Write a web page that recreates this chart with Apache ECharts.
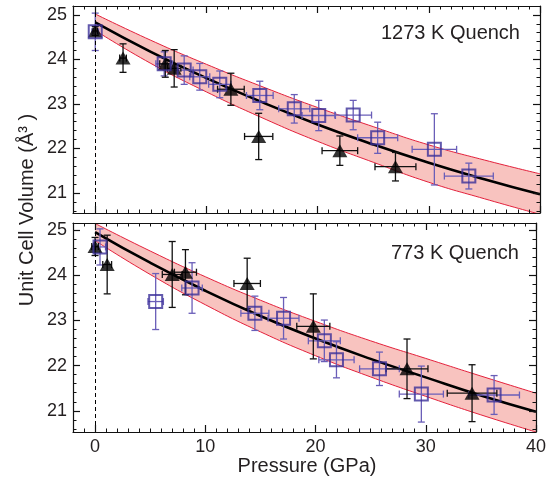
<!DOCTYPE html>
<html><head><meta charset="utf-8">
<script src="https://cdn.jsdelivr.net/npm/echarts@6/dist/echarts.min.js"></script>
<style>html,body{margin:0;padding:0;background:#fff}#c{width:549px;height:488px}</style>
</head><body><div id="c"></div>
<script>
// ---- tick labels ----
const xTickValues = [0, 10, 20, 30, 40];
const yTickValues = [21, 22, 23, 24, 25];
const panelTitles = ['1273 K Quench', '773 K Quench'];

// ---- fitted EOS curves ----
const fitP = [0, 5, 10, 15, 20, 25, 30, 35, 40];
const fitTopV     = [24.83, 24.17, 23.58, 23.04, 22.54, 22.09, 21.68, 21.31, 20.97];
const fitTopUpper = [25.02, 24.43, 23.89, 23.39, 22.92, 22.49, 22.08, 21.74, 21.43];
const fitTopLower = [24.65, 23.91, 23.27, 22.69, 22.16, 21.69, 21.24, 20.87, 20.52];
const fitBotV     = [24.96, 24.28, 23.66, 23.10, 22.60, 22.15, 21.74, 21.34, 20.98];
const fitBotUpper = [25.15, 24.54, 23.97, 23.45, 22.98, 22.55, 22.16, 21.77, 21.39];
const fitBotLower = [24.77, 24.02, 23.35, 22.75, 22.22, 21.75, 21.32, 20.91, 20.53];

// ---- 1273 K quench: squares ----
const sqTopP    = [0, 6.2, 8.0, 9.4, 11.2, 14.8, 17.9, 20.1, 23.2, 25.4, 30.5, 33.6];
const sqTopV    = [24.62, 23.9, 23.76, 23.61, 23.44, 23.19, 22.89, 22.74, 22.75, 22.24, 21.98, 21.38];
const sqTopPErr = [0.3, 0.75, 0.8, 0.9, 1.0, 1.2, 1.4, 1.5, 1.65, 1.8, 2.0, 2.2];
const sqTopVErr = [0.42, 0.27, 0.32, 0.3, 0.3, 0.32, 0.32, 0.34, 0.33, 0.35, 0.8, 0.29];
// ---- 1273 K quench: triangles ----
const trTopP    = [0, 2.5, 6.3, 7.1, 12.2, 14.7, 22.0, 27.0];
const trTopV    = [24.64, 24.03, 23.9, 23.8, 23.33, 22.27, 21.95, 21.59];
const trTopPErr = [0.2, 0.3, 0.5, 0.6, 1.2, 1.27, 1.6, 1.84];
const trTopVErr = [0.1, 0.32, 0.3, 0.42, 0.36, 0.52, 0.33, 0.32];

// ---- 773 K quench: squares ----
const sqBotP    = [0.45, 5.5, 8.8, 14.5, 17.1, 20.8, 21.9, 25.8, 29.6, 36.2];
const sqBotV    = [24.63, 23.42, 23.72, 23.16, 23.05, 22.55, 22.13, 21.93, 21.37, 21.35];
const sqBotPErr = [0.5, 0.7, 0.93, 1.27, 1.4, 1.45, 1.6, 1.8, 2.0, 2.3];
const sqBotVErr = [0.4, 0.62, 0.56, 0.38, 0.46, 0.46, 0.4, 0.37, 0.62, 0.43];
// ---- 773 K quench: triangles ----
const trBotP    = [0, 1.1, 7.0, 8.2, 13.8, 19.8, 28.3, 34.2];
const trBotV    = [24.64, 24.24, 24.02, 24.07, 23.82, 22.87, 21.93, 21.39];
const trBotPErr = [0.3, 0.4, 0.9, 1.0, 1.2, 1.5, 1.9, 2.25];
const trBotVErr = [0.2, 0.65, 0.73, 0.5, 0.56, 0.72, 0.66, 0.63];

// ------------------------------------------------
const FONT = 'Liberation Sans, Arial, Helvetica, sans-serif';
const TXT = '#231f20';
const SQ_COLOR = '#3b2f98';
const SQ_ERR = '#6a5eb8';
const BAND_FILL = '#f8c3bf';
const BAND_LINE = '#e3203b';
const XMIN = -2, XMAX = 40;
const YRANGE = [[20.55, 25.2], [20.53, 25.16]];

const minorX = [];
for (let i = XMIN; i <= XMAX; i++) minorX.push(i);
function minorY(lo, hi) {
  const out = [];
  for (let k = Math.ceil(lo * 5); k <= Math.floor(hi * 5); k++) out.push(+(k / 5).toFixed(1));
  return out;
}

const grids = [
  { left: 73, right: 9, top: 6, height: 207 },
  { left: 73, right: 9, top: 223, height: 209 }
];

const xAxes = [], yAxes = [];
function addAxes(g) {
  const showLabel = g === 1;
  const base = { gridIndex: g, type: 'value', min: XMIN, max: XMAX, splitLine: { show: false }, z: 10 };
  xAxes.push(Object.assign({}, base, {
    position: 'bottom',
    axisLine: { show: true, onZero: false, lineStyle: { color: '#111', width: 1.2 } },
    axisTick: { show: true, inside: true, length: 7, customValues: xTickValues, lineStyle: { color: '#111', width: 1.2 } },
    axisLabel: { show: showLabel, customValues: xTickValues, color: TXT, fontSize: 18, fontFamily: FONT, margin: 6 }
  }));
  xAxes.push(Object.assign({}, base, {
    position: 'bottom', interval: 1,
    axisLine: { show: false, onZero: false },
    axisTick: { show: true, inside: true, length: 3.5, customValues: minorX, lineStyle: { color: '#111', width: 1 } },
    axisLabel: { show: false }
  }));
  xAxes.push(Object.assign({}, base, {
    position: 'top',
    axisLine: { show: true, onZero: false, lineStyle: { color: '#111', width: 1.2 } },
    axisTick: { show: true, inside: true, length: 7, customValues: xTickValues, lineStyle: { color: '#111', width: 1.2 } },
    axisLabel: { show: false }
  }));
  xAxes.push(Object.assign({}, base, {
    position: 'top', interval: 1,
    axisLine: { show: false, onZero: false },
    axisTick: { show: true, inside: true, length: 3.5, customValues: minorX, lineStyle: { color: '#111', width: 1 } },
    axisLabel: { show: false }
  }));
  const [lo, hi] = YRANGE[g];
  const ybase = { gridIndex: g, type: 'value', min: lo, max: hi, splitLine: { show: false }, z: 10 };
  const ym = minorY(lo, hi);
  ['left', 'right'].forEach(pos => {
    yAxes.push(Object.assign({}, ybase, {
      position: pos,
      axisLine: { show: true, onZero: false, lineStyle: { color: '#111', width: 1.2 } },
      axisTick: { show: true, inside: true, length: 7, customValues: yTickValues, lineStyle: { color: '#111', width: 1.2 } },
      axisLabel: { show: pos === 'left', customValues: yTickValues, color: TXT, fontSize: 18, fontFamily: FONT, margin: 6 }
    }));
    yAxes.push(Object.assign({}, ybase, {
      position: pos,
      axisLine: { show: false, onZero: false },
      axisTick: { show: true, inside: true, length: 3.5, customValues: ym, lineStyle: { color: '#111', width: 1 } },
      axisLabel: { show: false }
    }));
  });
}
addAxes(0); addAxes(1);

function zip(a, b) { return a.map((v, i) => [v, b[i]]); }
function zipErr(p, v, pe, ve) { return p.map((x, i) => [x, v[i], pe[i], ve[i]]); }

function errorSeries(g, data, color, width) {
  return {
    type: 'custom', xAxisIndex: g * 4, yAxisIndex: g * 4, z: 4,
    data: data, clip: false,
    renderItem: function (params, api) {
      const x = api.value(0), y = api.value(1), dx = api.value(2), dy = api.value(3);
      const c = api.coord([x, y]);
      const l = api.coord([x - dx, y]), r = api.coord([x + dx, y]);
      const t = api.coord([x, y + dy]), b = api.coord([x, y - dy]);
      const cap = 3.5;
      const st = { stroke: color, lineWidth: width };
      const children = [
        { type: 'line', shape: { x1: t[0], y1: t[1], x2: b[0], y2: b[1] }, style: st },
        { type: 'line', shape: { x1: t[0] - cap, y1: t[1], x2: t[0] + cap, y2: t[1] }, style: st },
        { type: 'line', shape: { x1: b[0] - cap, y1: b[1], x2: b[0] + cap, y2: b[1] }, style: st }
      ];
      if (r[0] - l[0] > 2) {
        children.push(
          { type: 'line', shape: { x1: l[0], y1: c[1], x2: r[0], y2: c[1] }, style: st },
          { type: 'line', shape: { x1: l[0], y1: c[1] - cap, x2: l[0], y2: c[1] + cap }, style: st },
          { type: 'line', shape: { x1: r[0], y1: c[1] - cap, x2: r[0], y2: c[1] + cap }, style: st }
        );
      }
      return { type: 'group', children: children };
    }
  };
}

function panelSeries(g, fitV, up, lo, sqP, sqV, sqPE, sqVE, trP, trV, trPE, trVE) {
  const xi = g * 4, yi = g * 4;
  return [
    // pink area from the upper bound down to the axis
    { type: 'line', xAxisIndex: xi, yAxisIndex: yi, data: zip(fitP, up), smooth: true,
      showSymbol: false, symbol: 'none', lineStyle: { color: BAND_LINE, width: 1 },
      areaStyle: { color: BAND_FILL, opacity: 1, origin: 'start' }, z: 1, silent: true },
    // white area below the lower bound masks the pink there
    { type: 'line', xAxisIndex: xi, yAxisIndex: yi, data: zip(fitP, lo), smooth: true,
      showSymbol: false, symbol: 'none', lineStyle: { color: BAND_LINE, width: 1 },
      areaStyle: { color: '#ffffff', opacity: 1, origin: 'start' }, z: 1.5, silent: true },
    { type: 'line', xAxisIndex: xi, yAxisIndex: yi, data: zip(fitP, fitV), smooth: true,
      showSymbol: false, symbol: 'none', lineStyle: { color: '#000', width: 2.6 }, z: 2, silent: true,
      markLine: { silent: true, symbol: 'none', label: { show: false },
        lineStyle: { color: '#000', type: [4, 3], width: 1 }, data: [{ xAxis: 0 }] } },
    errorSeries(g, zipErr(sqP, sqV, sqPE, sqVE), SQ_ERR, 1.3),
    errorSeries(g, zipErr(trP, trV, trPE, trVE), '#111', 1.3),
    { type: 'scatter', xAxisIndex: xi, yAxisIndex: yi, data: zip(trP, trV), symbol: 'triangle', symbolSize: [15, 13],
      itemStyle: { color: '#000' }, z: 5 },
    { type: 'scatter', xAxisIndex: xi, yAxisIndex: yi, data: zip(sqP, sqV), symbol: 'rect', symbolSize: 13,
      itemStyle: { color: 'rgba(0,0,0,0)', borderColor: SQ_COLOR, borderWidth: 2 }, z: 6 }
  ];
}

const series = []
  .concat(panelSeries(0, fitTopV, fitTopUpper, fitTopLower, sqTopP, sqTopV, sqTopPErr, sqTopVErr, trTopP, trTopV, trTopPErr, trTopVErr))
  .concat(panelSeries(1, fitBotV, fitBotUpper, fitBotLower, sqBotP, sqBotV, sqBotPErr, sqBotVErr, trBotP, trBotV, trBotPErr, trBotVErr));

const chart = echarts.init(document.getElementById('c'), null, { renderer: 'canvas' });
chart.setOption({
  animation: false,
  backgroundColor: '#fff',
  grid: grids,
  xAxis: xAxes,
  yAxis: yAxes,
  series: series,
  graphic: [
    { type: 'text', left: 381, top: 23, style: { text: panelTitles[0], fill: TXT, font: '20px ' + FONT } },
    { type: 'text', left: 391, top: 243, style: { text: panelTitles[1], fill: TXT, font: '20px ' + FONT } },
    { type: 'text', x: 27, y: 210, rotation: Math.PI / 2, style: { text: 'Unit Cell Volume (Å³ )', fill: TXT,
      font: '20px ' + FONT, align: 'center', verticalAlign: 'middle' } },
    { type: 'text', x: 307, y: 466, style: { text: 'Pressure (GPa)', fill: TXT, font: '20px ' + FONT,
      align: 'center', verticalAlign: 'middle' } }
  ]
});
</script></body></html>
